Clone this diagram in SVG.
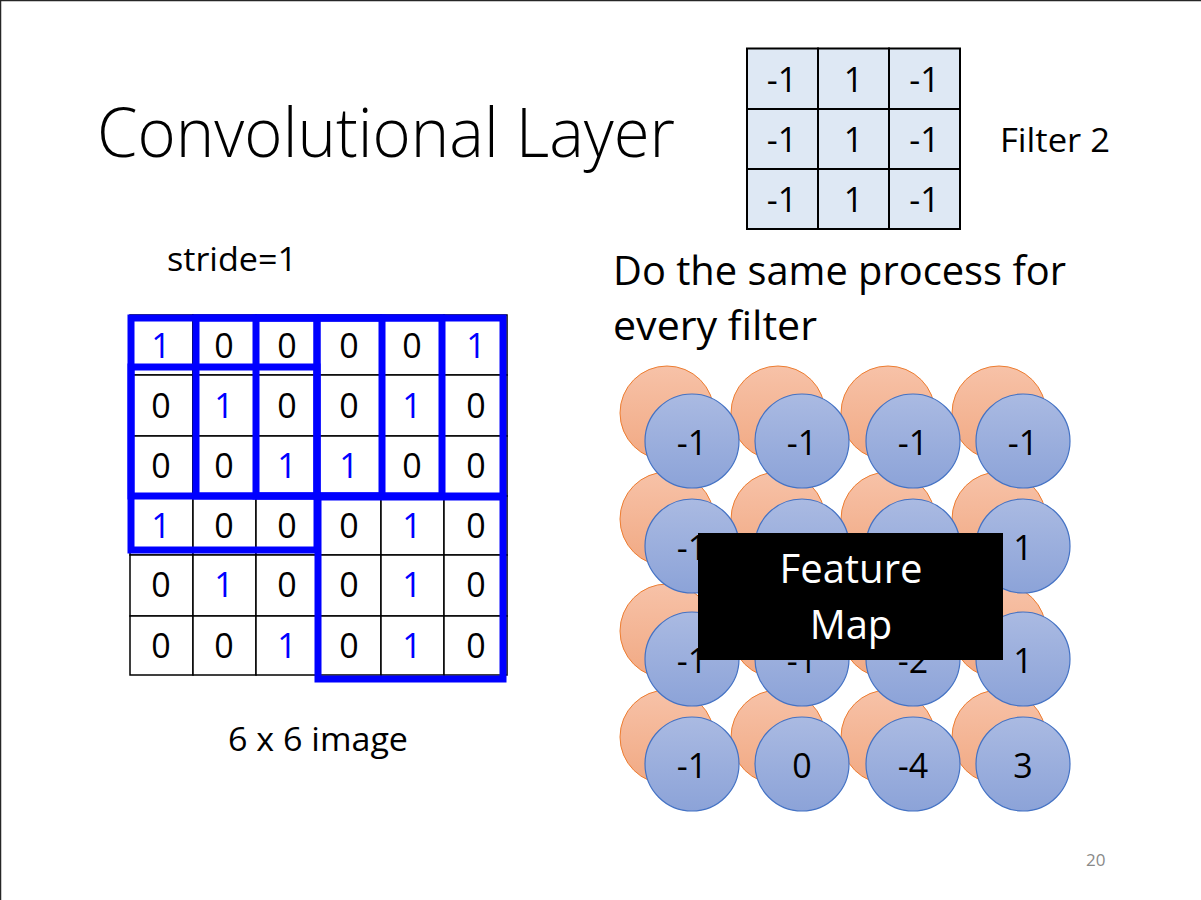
<svg xmlns="http://www.w3.org/2000/svg" width="1201" height="900" viewBox="0 0 1201 900">
<defs>
<linearGradient id="gBlue" x1="0" y1="0" x2="0" y2="1"><stop offset="0" stop-color="#AABAE2"/><stop offset="1" stop-color="#8CA3D8"/></linearGradient>
<linearGradient id="gOrange" x1="0" y1="0" x2="0" y2="1"><stop offset="0" stop-color="#F7C2A8"/><stop offset="1" stop-color="#F1A983"/></linearGradient>
<style>
text{font-family:"Open Sans","Liberation Sans",sans-serif;fill:#000}
.d{font-size:34px;text-anchor:middle}
.b{fill:#0000FF}
.cell{fill:#fff;stroke:#000;stroke-width:1.5}
.fcell{fill:#DEE8F4;stroke:#000;stroke-width:2}
.win{fill:none;stroke:#0000FF;stroke-width:7}
.oc{fill:url(#gOrange);stroke:#ED7D31;stroke-width:1}
.bc{fill:url(#gBlue);stroke:#4472C4;stroke-width:1.2}
.lbl{font-size:33px}
</style>
</defs>
<rect x="0" y="0" width="1201" height="900" fill="#fff"/>
<path d="M0.5 900V0.5H1201" fill="none" stroke="#262626" stroke-width="1.5"/>
<text id="title" x="97" y="157" font-size="68" font-weight="300" textLength="578" lengthAdjust="spacingAndGlyphs">Convolutional Layer</text>
<g id="filter2">
<rect class="fcell" x="747" y="48.5" width="71" height="60.5"/><rect class="fcell" x="818" y="48.5" width="71" height="60.5"/><rect class="fcell" x="889" y="48.5" width="71" height="60.5"/>
<rect class="fcell" x="747" y="109" width="71" height="60"/><rect class="fcell" x="818" y="109" width="71" height="60"/><rect class="fcell" x="889" y="109" width="71" height="60"/>
<rect class="fcell" x="747" y="169" width="71" height="60"/><rect class="fcell" x="818" y="169" width="71" height="60"/><rect class="fcell" x="889" y="169" width="71" height="60"/>
<text class="d" x="782" y="92">-1</text><text class="d" x="853.5" y="92">1</text><text class="d" x="924.5" y="92">-1</text>
<text class="d" x="782" y="152">-1</text><text class="d" x="853.5" y="152">1</text><text class="d" x="924.5" y="152">-1</text>
<text class="d" x="782" y="212">-1</text><text class="d" x="853.5" y="212">1</text><text class="d" x="924.5" y="212">-1</text>
</g>
<text id="filterLabel" class="lbl" x="1000" y="152" textLength="110" lengthAdjust="spacingAndGlyphs">Filter 2</text>
<text id="stride" x="167" y="271" font-size="32" textLength="130" lengthAdjust="spacingAndGlyphs">stride=1</text>
<text id="desc" font-size="40"><tspan x="613" y="285" textLength="453" lengthAdjust="spacingAndGlyphs">Do the same process for</tspan><tspan x="613" y="340" textLength="204" lengthAdjust="spacingAndGlyphs">every filter</tspan></text>
<g id="image">
<g id="cells">
<rect class="cell" x="130" y="315" width="63" height="60"/><rect class="cell" x="193" y="315" width="63" height="60"/><rect class="cell" x="256" y="315" width="62" height="60"/><rect class="cell" x="318" y="315" width="63" height="60"/><rect class="cell" x="381" y="315" width="63" height="60"/><rect class="cell" x="444" y="315" width="63" height="60"/>
<rect class="cell" x="130" y="375" width="63" height="61"/><rect class="cell" x="193" y="375" width="63" height="61"/><rect class="cell" x="256" y="375" width="62" height="61"/><rect class="cell" x="318" y="375" width="63" height="61"/><rect class="cell" x="381" y="375" width="63" height="61"/><rect class="cell" x="444" y="375" width="63" height="61"/>
<rect class="cell" x="130" y="436" width="63" height="60"/><rect class="cell" x="193" y="436" width="63" height="60"/><rect class="cell" x="256" y="436" width="62" height="60"/><rect class="cell" x="318" y="436" width="63" height="60"/><rect class="cell" x="381" y="436" width="63" height="60"/><rect class="cell" x="444" y="436" width="63" height="60"/>
<rect class="cell" x="130" y="496" width="63" height="59"/><rect class="cell" x="193" y="496" width="63" height="59"/><rect class="cell" x="256" y="496" width="62" height="59"/><rect class="cell" x="318" y="496" width="63" height="59"/><rect class="cell" x="381" y="496" width="63" height="59"/><rect class="cell" x="444" y="496" width="63" height="59"/>
<rect class="cell" x="130" y="555" width="63" height="61"/><rect class="cell" x="193" y="555" width="63" height="61"/><rect class="cell" x="256" y="555" width="62" height="61"/><rect class="cell" x="318" y="555" width="63" height="61"/><rect class="cell" x="381" y="555" width="63" height="61"/><rect class="cell" x="444" y="555" width="63" height="61"/>
<rect class="cell" x="130" y="616" width="63" height="59"/><rect class="cell" x="193" y="616" width="63" height="59"/><rect class="cell" x="256" y="616" width="62" height="59"/><rect class="cell" x="318" y="616" width="63" height="59"/><rect class="cell" x="381" y="616" width="63" height="59"/><rect class="cell" x="444" y="616" width="63" height="59"/>
</g>
<g id="values">
<text class="d b" x="161" y="358">1</text><text class="d" x="224" y="358">0</text><text class="d" x="287" y="358">0</text><text class="d" x="349" y="358">0</text><text class="d" x="412" y="358">0</text><text class="d b" x="476" y="358">1</text>
<text class="d" x="161" y="418">0</text><text class="d b" x="224" y="418">1</text><text class="d" x="287" y="418">0</text><text class="d" x="349" y="418">0</text><text class="d b" x="412" y="418">1</text><text class="d" x="476" y="418">0</text>
<text class="d" x="161" y="478">0</text><text class="d" x="224" y="478">0</text><text class="d b" x="287" y="478">1</text><text class="d b" x="349" y="478">1</text><text class="d" x="412" y="478">0</text><text class="d" x="476" y="478">0</text>
<text class="d b" x="161" y="538">1</text><text class="d" x="224" y="538">0</text><text class="d" x="287" y="538">0</text><text class="d" x="349" y="538">0</text><text class="d b" x="412" y="538">1</text><text class="d" x="476" y="538">0</text>
<text class="d" x="161" y="597">0</text><text class="d b" x="224" y="597">1</text><text class="d" x="287" y="597">0</text><text class="d" x="349" y="597">0</text><text class="d b" x="412" y="597">1</text><text class="d" x="476" y="597">0</text>
<text class="d" x="161" y="658">0</text><text class="d" x="224" y="658">0</text><text class="d b" x="287" y="658">1</text><text class="d" x="349" y="658">0</text><text class="d b" x="412" y="658">1</text><text class="d" x="476" y="658">0</text>
</g>
<g id="windows">
<rect class="win" x="131" y="318" width="186" height="178"/>
<rect class="win" x="196" y="318" width="186" height="178"/>
<rect class="win" x="256" y="318" width="186" height="178"/>
<rect class="win" x="317" y="318" width="186" height="178"/>
<rect class="win" x="131" y="367" width="186" height="183"/>
<rect class="win" x="318" y="497" width="185" height="182"/>
</g>
</g>
<text id="imageLabel" x="228" y="751" font-size="32" textLength="180" lengthAdjust="spacingAndGlyphs">6 x 6 image</text>
<g id="featureMap">
<g id="orange">
<circle class="oc" cx="667" cy="413" r="47"/><circle class="oc" cx="778" cy="413" r="47"/><circle class="oc" cx="888" cy="413" r="47"/><circle class="oc" cx="999" cy="413" r="47"/>
<circle class="oc" cx="667" cy="519" r="47"/><circle class="oc" cx="778" cy="519" r="47"/><circle class="oc" cx="888" cy="519" r="47"/><circle class="oc" cx="999" cy="519" r="47"/>
<circle class="oc" cx="667" cy="631" r="47"/><circle class="oc" cx="778" cy="631" r="47"/><circle class="oc" cx="888" cy="631" r="47"/><circle class="oc" cx="999" cy="631" r="47"/>
<circle class="oc" cx="667" cy="737" r="47"/><circle class="oc" cx="778" cy="737" r="47"/><circle class="oc" cx="888" cy="737" r="47"/><circle class="oc" cx="999" cy="737" r="47"/>
</g>
<g id="blue">
<circle class="bc" cx="692" cy="441" r="47"/><circle class="bc" cx="802" cy="441" r="47"/><circle class="bc" cx="913" cy="441" r="47"/><circle class="bc" cx="1023" cy="441" r="47"/>
<circle class="bc" cx="692" cy="546" r="47"/><circle class="bc" cx="802" cy="546" r="47"/><circle class="bc" cx="913" cy="546" r="47"/><circle class="bc" cx="1023" cy="546" r="47"/>
<circle class="bc" cx="692" cy="659" r="47"/><circle class="bc" cx="802" cy="659" r="47"/><circle class="bc" cx="913" cy="659" r="47"/><circle class="bc" cx="1023" cy="659" r="47"/>
<circle class="bc" cx="692" cy="764" r="47"/><circle class="bc" cx="802" cy="764" r="47"/><circle class="bc" cx="913" cy="764" r="47"/><circle class="bc" cx="1023" cy="764" r="47"/>
</g>
<g id="fmValues">
<text class="d" x="692" y="455">-1</text><text class="d" x="802" y="455">-1</text><text class="d" x="913" y="455">-1</text><text class="d" x="1023" y="455">-1</text>
<text class="d" x="692" y="560">-1</text><text class="d" x="1023" y="560">1</text>
<text class="d" x="692" y="673">-1</text><text class="d" x="802" y="673">-1</text><text class="d" x="913" y="673">-2</text><text class="d" x="1023" y="673">1</text>
<text class="d" x="692" y="778">-1</text><text class="d" x="802" y="778">0</text><text class="d" x="913" y="778">-4</text><text class="d" x="1023" y="778">3</text>
</g>
<g id="fmLabel">
<rect x="698" y="533" width="305" height="127" fill="#000"/>
<text x="851" y="583" font-size="40" text-anchor="middle" style="fill:#fff">Feature</text>
<text x="851" y="639" font-size="40" text-anchor="middle" style="fill:#fff">Map</text>
</g>
</g>
<text id="page" x="1086" y="866" font-size="17" style="fill:#898989">20</text>
</svg>
